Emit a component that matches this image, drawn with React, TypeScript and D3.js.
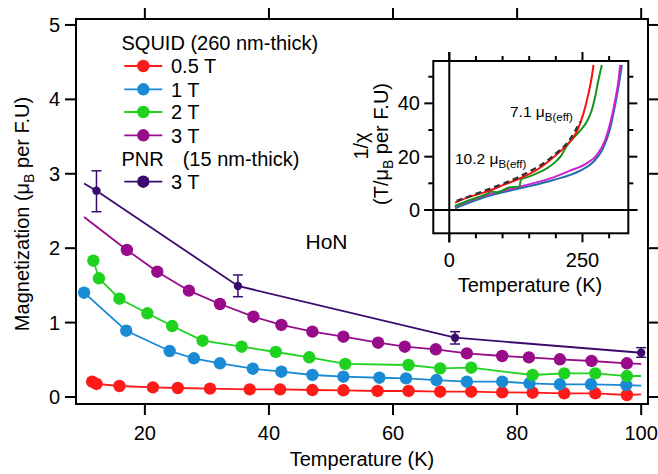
import React from "react";
import * as d3 from "d3";

// ---------- main panel data ----------
const xTicks = [20, 40, 60, 80, 100];
const yTicks = [0, 1, 2, 3, 4, 5];

const red05T = [11.5, 12.2, 15.9, 21.3, 25.3, 30.5, 36.9, 41.8, 47.0, 52.0, 57.5, 62.5, 67.6, 72.6, 77.6, 82.5, 87.6, 92.6, 97.7, 100];
const red05M = [0.206, 0.175, 0.148, 0.130, 0.121, 0.112, 0.103, 0.103, 0.094, 0.090, 0.081, 0.081, 0.071, 0.071, 0.063, 0.058, 0.050, 0.050, 0.027, 0.035];

const blue1T = [10.2, 17.0, 24.0, 27.9, 32.1, 37.4, 42.0, 47.0, 52.0, 57.8, 62.1, 67.0, 71.9, 77.6, 82.0, 86.9, 91.9, 97.6, 100];
const blue1M = [1.402, 0.891, 0.618, 0.520, 0.453, 0.380, 0.340, 0.296, 0.273, 0.259, 0.251, 0.228, 0.206, 0.206, 0.184, 0.171, 0.171, 0.161, 0.153];

const green2T = [11.7, 12.6, 15.9, 20.4, 24.4, 29.3, 35.6, 41.1, 46.5, 52.3, 62.5, 67.6, 72.6, 82.5, 87.6, 92.6, 97.7, 100];
const green2M = [1.832, 1.595, 1.321, 1.125, 0.954, 0.757, 0.676, 0.605, 0.534, 0.444, 0.430, 0.385, 0.394, 0.296, 0.318, 0.318, 0.282, 0.282];

const purple3T = [10.2, 17.1, 22.0, 27.1, 32.1, 37.5, 42.0, 47.0, 52.0, 57.6, 61.9, 66.9, 71.9, 77.6, 81.9, 86.9, 92.0, 97.7, 100];
const purple3M = [2.42, 1.976, 1.684, 1.429, 1.250, 1.079, 0.968, 0.878, 0.810, 0.730, 0.676, 0.641, 0.587, 0.551, 0.533, 0.507, 0.484, 0.453, 0.446];

const pnrT = [10.2, 12.2, 35.0, 70.0, 100.0];
const pnrM = [2.87, 2.773, 1.492, 0.797, 0.595];
const pnrErrLo = [NaN, 2.49, 1.348, 0.712, 0.534];
const pnrErrHi = [NaN, 3.04, 1.64, 0.878, 0.663];

const legendLabels = ["0.5 T", "1 T", "2 T", "3 T"];

// ---------- inset data (1/chi vs T) ----------
const insetXMajor = [0, 250];
const insetXMinor = [50, 100, 150, 200, 300];
const insetYMajor = [0, 20, 40];
const insetYMinor = [10, 30, 50];

const inRed = [[10.7, 2.75], [38.8, 5], [70.2, 6.9], [101.5, 9.4], [132.8, 11.9], [164.2, 15], [195.5, 19.75], [220.6, 24.4], [239.3, 29.4], [251.9, 36.25], [261.3, 43.75], [267.5, 50], [270.7, 54.4]];
const inGreen = [[10.7, 1.5], [38.8, 3.75], [70.2, 6], [79.6, 6.9], [88, 6.6], [114, 8.5], [131.6, 8.75], [134.7, 11.5], [145.4, 12.25], [164.2, 13.75], [183, 15.6], [201.8, 18.5], [210, 20.4], [220.6, 24], [232, 26.8], [245.6, 29.8], [258, 33.1], [267.5, 37.5], [273.8, 42.5], [280, 48.75], [286.3, 54.4]];
const inMagenta = [[10.7, 1.25], [70.2, 5.6], [132.8, 8.75], [195.5, 12.25], [226.8, 14.75], [258, 17.5], [276.9, 20.6], [292.6, 26.25], [302, 32.5], [311.4, 41.25], [317.7, 48.75], [320.8, 54.4]];
const inBlue = [[10.7, 0.6], [70.2, 5], [132.8, 8.1], [195.5, 11.25], [245.6, 14.75], [270.7, 18.1], [288.6, 23.1], [301.2, 30], [310.6, 38.75], [318.7, 47.5], [323.9, 54.4]];
const inFit = [[13.8, 3.4], [70.2, 7.5], [132.8, 12.6], [195.5, 20.4], [226.8, 26.6], [245.6, 33.1]];

const FONT = "'Liberation Sans', Arial, Helvetica, sans-serif";

export default function App() {
  const W = 658, H = 474;
  const L = 76, R = 648, T = 19, B = 404;
  const x = d3.scaleLinear().domain([8.9, 101.1]).range([L, R]);
  const y = d3.scaleLinear().domain([-0.094, 5.08]).range([B, T]);

  const mkPath = (ts: number[], ms: number[]) =>
    d3.line<number>().x((d) => x(ts[d])).y((d) => y(ms[d]))(d3.range(ts.length)) || "";

  const series = [
    { t: red05T, m: red05M, color: "#ff1a1a", skip: [red05T.length - 1] },
    { t: blue1T, m: blue1M, color: "#1a8ad4", skip: [blue1T.length - 1] },
    { t: green2T, m: green2M, color: "#1fd21f", skip: [green2T.length - 1] },
    { t: purple3T, m: purple3M, color: "#980b8a", skip: [0, purple3T.length - 1] },
  ];
  const pnrColor = "#3a0b6e";

  // inset
  const iL = 433.3, iR = 628.3, iT = 61, iB = 233.3;
  const xi = d3.scaleLinear().domain([-30, 336]).range([iL, iR]);
  const yi = d3.scaleLinear().domain([-8.75, 55.9]).range([iB, iT]);
  const iline = d3.line<number[]>().x((d) => xi(d[0])).y((d) => yi(d[1])).curve(d3.curveMonotoneX);

  const tickLen = 11;
  const fs = 20;

  return (
    <svg width={W} height={H} style={{ position: "absolute", left: 0, top: 0, background: "#fff" }} fontFamily={FONT}>
      <defs>
        <clipPath id="insetClip">
          <rect x={iL} y={iT} width={iR - iL} height={iB - iT} />
        </clipPath>
      </defs>

      {/* main series lines */}
      {series.map((s, i) => (
        <path key={"l" + i} d={mkPath(s.t, s.m)} fill="none" stroke={s.color} strokeWidth={1.8} />
      ))}
      {series.map((s, i) => (
        <g key={"m" + i} fill={s.color}>
          {s.t.map((tv, j) =>
            s.skip.includes(j) ? null : <circle key={j} cx={x(tv)} cy={y(s.m[j])} r={6.2} />
          )}
        </g>
      ))}

      {/* PNR */}
      <path d={mkPath(pnrT, pnrM)} fill="none" stroke={pnrColor} strokeWidth={1.8} />
      {pnrT.map((tv, j) =>
        j === 0 ? null : (
          <g key={"p" + j} stroke={pnrColor} strokeWidth={1.5}>
            <line x1={x(tv)} x2={x(tv)} y1={y(pnrErrLo[j])} y2={y(pnrErrHi[j])} />
            <line x1={x(tv) - 5} x2={x(tv) + 5} y1={y(pnrErrLo[j])} y2={y(pnrErrLo[j])} />
            <line x1={x(tv) - 5} x2={x(tv) + 5} y1={y(pnrErrHi[j])} y2={y(pnrErrHi[j])} />
            <circle cx={x(tv)} cy={y(pnrM[j])} r={4.2} fill={pnrColor} stroke="none" />
          </g>
        )
      )}

      {/* main frame */}
      <rect x={L} y={T} width={R - L} height={B - T} fill="none" stroke="#000" strokeWidth={2} />
      {xTicks.map((t) => (
        <g key={"xt" + t} stroke="#000" strokeWidth={2}>
          <line x1={x(t)} x2={x(t)} y1={B} y2={B + tickLen} />
          <line x1={x(t)} x2={x(t)} y1={T} y2={T - tickLen} />
        </g>
      ))}
      {yTicks.map((t) => (
        <g key={"yt" + t} stroke="#000" strokeWidth={2}>
          <line x1={L} x2={L - tickLen} y1={y(t)} y2={y(t)} />
          <line x1={R} x2={R + tickLen - 1} y1={y(t)} y2={y(t)} />
        </g>
      ))}
      {xTicks.map((t) => (
        <text key={"xl" + t} x={x(t)} y={440} fontSize={fs} textAnchor="middle">{t}</text>
      ))}
      {yTicks.map((t) => (
        <text key={"yl" + t} x={60} y={y(t) + 7} fontSize={fs} textAnchor="end">{t}</text>
      ))}
      <text x={(L + R) / 2} y={466} fontSize={fs} textAnchor="middle">Temperature (K)</text>
      <text transform={`translate(29,214) rotate(-90)`} fontSize={fs} textAnchor="middle">
        Magnetization (μ<tspan fontSize={14} dy={5}>B</tspan><tspan dy={-5}> per F.U)</tspan>
      </text>
      <text x={305.5} y={248.5} fontSize={21}>HoN</text>

      {/* legend */}
      <text x={121.5} y={49.5} fontSize={fs}>SQUID (260 nm-thick)</text>
      {series.map((s, i) => {
        const cy = [66, 89.3, 112, 135.3][i];
        return (
          <g key={"lg" + i}>
            <line x1={124.3} x2={162.3} y1={cy} y2={cy} stroke={s.color} strokeWidth={1.8} />
            <circle cx={143.3} cy={cy} r={6.2} fill={s.color} />
            <text x={171} y={cy + 7.2} fontSize={fs}>{legendLabels[i]}</text>
          </g>
        );
      })}
      <text x={121.5} y={165.5} fontSize={fs}>PNR</text>
      <text x={182.7} y={165.5} fontSize={fs}>(15 nm-thick)</text>
      <line x1={124.3} x2={162.3} y1={181.7} y2={181.7} stroke={pnrColor} strokeWidth={1.8} />
      <circle cx={143.3} cy={181.7} r={6.2} fill={pnrColor} />
      <text x={171} y={188.9} fontSize={fs}>3 T</text>

      {/* inset */}
      <rect x={iL} y={iT} width={iR - iL} height={iB - iT} fill="#fff" />
      <g clipPath="url(#insetClip)" fill="none" strokeWidth={2}>
        <path d={iline(inBlue as any) || ""} stroke="#1f6ea8" />
        <path d={iline(inMagenta as any) || ""} stroke="#d21fcf" />
        <path d={iline(inGreen as any) || ""} stroke="#12951a" />
        <path d={iline(inRed as any) || ""} stroke="#ff0d0d" />
        <path d={iline(inFit as any) || ""} stroke="#333" strokeDasharray="6,4" strokeWidth={2.4} />
      </g>
      <rect x={iL} y={iT} width={iR - iL} height={iB - iT} fill="none" stroke="#000" strokeWidth={2} />
      {/* zero lines */}
      <line x1={xi(0)} x2={xi(0)} y1={iT - 9} y2={iB + 9} stroke="#000" strokeWidth={2} />
      <line x1={iL - 9} x2={iR + 9} y1={yi(0)} y2={yi(0)} stroke="#000" strokeWidth={2} />
      {insetXMajor.map((t) => (
        <g key={"ixM" + t} stroke="#000" strokeWidth={2}>
          <line x1={xi(t)} x2={xi(t)} y1={iB} y2={iB + 9} />
          <line x1={xi(t)} x2={xi(t)} y1={iT} y2={iT - 9} />
        </g>
      ))}
      {insetXMinor.map((t) => (
        <g key={"ixm" + t} stroke="#000" strokeWidth={2}>
          <line x1={xi(t)} x2={xi(t)} y1={iB} y2={iB + 5} />
          <line x1={xi(t)} x2={xi(t)} y1={iT} y2={iT - 5} />
        </g>
      ))}
      {insetYMajor.map((t) => (
        <g key={"iyM" + t} stroke="#000" strokeWidth={2}>
          <line x1={iL} x2={iL - 9} y1={yi(t)} y2={yi(t)} />
          <line x1={iR} x2={iR + 9} y1={yi(t)} y2={yi(t)} />
        </g>
      ))}
      {insetYMinor.map((t) => (
        <g key={"iym" + t} stroke="#000" strokeWidth={2}>
          <line x1={iL} x2={iL - 5} y1={yi(t)} y2={yi(t)} />
          <line x1={iR} x2={iR + 5} y1={yi(t)} y2={yi(t)} />
        </g>
      ))}
      {insetXMajor.map((t) => (
        <text key={"ixl" + t} x={xi(t)} y={267} fontSize={fs} textAnchor="middle">{t}</text>
      ))}
      {insetYMajor.map((t) => (
        <text key={"iyl" + t} x={420} y={yi(t) + 7} fontSize={fs} textAnchor="end">{t}</text>
      ))}
      <text x={530} y={292} fontSize={fs} textAnchor="middle">Temperature (K)</text>
      <text transform={`translate(368,146) rotate(-90)`} fontSize={fs} textAnchor="middle">1/χ</text>
      <text transform={`translate(388,144) rotate(-90)`} fontSize={fs} textAnchor="middle">
        (T/μ<tspan fontSize={14} dy={5}>B</tspan><tspan dy={-5}> per F.U)</tspan>
      </text>
      <text x={510} y={117} fontSize={15.5}>
        7.1 μ<tspan fontSize={11.5} dy={4}>B(eff)</tspan>
      </text>
      <text x={455} y={164} fontSize={15.5}>
        10.2 μ<tspan fontSize={11.5} dy={4}>B(eff)</tspan>
      </text>
    </svg>
  );
}
